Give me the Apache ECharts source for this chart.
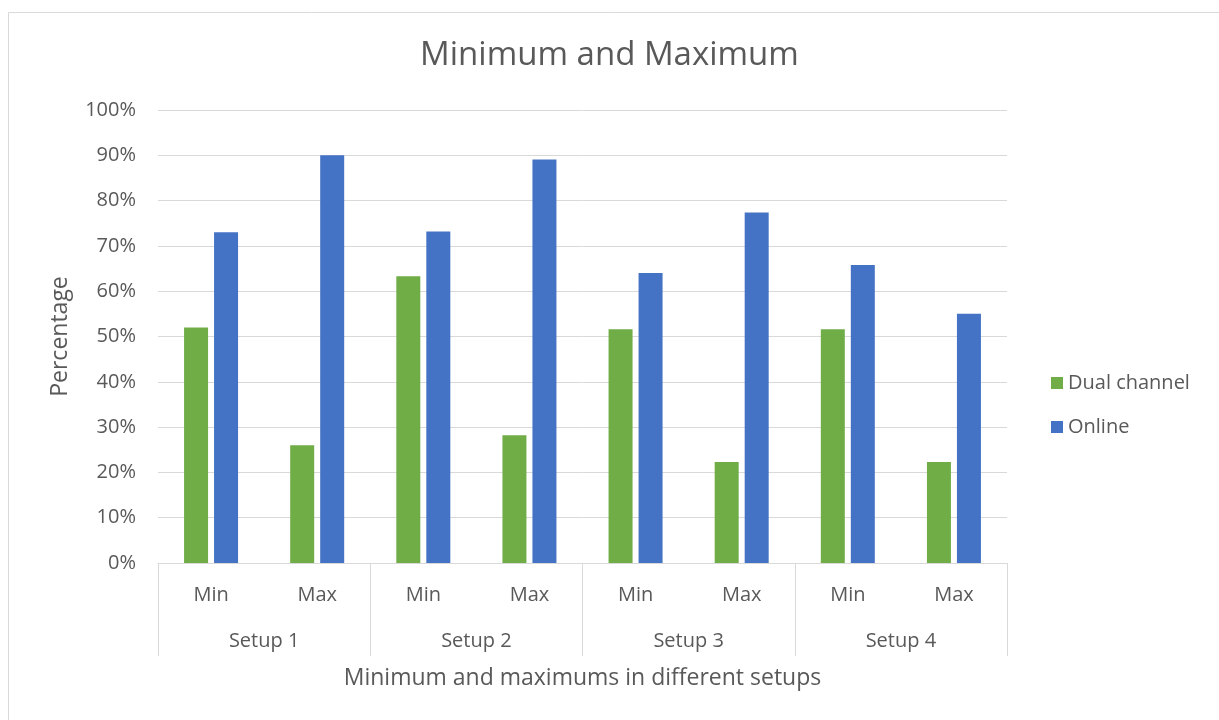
<!DOCTYPE html>
<html>
<head>
<meta charset="utf-8">
<script src="https://cdn.jsdelivr.net/npm/echarts@6/dist/echarts.min.js"></script>
<style>
  html, body { margin: 0; padding: 0; background: #fff; }
  #chart { width: 1219px; height: 720px; }
</style>
</head>
<body>
<div id="chart"></div>
<script>
var minMax = ['Min', 'Max', 'Min', 'Max', 'Min', 'Max', 'Min', 'Max']
var setups = ['Setup 1', 'Setup 2', 'Setup 3', 'Setup 4']
var dualChannel = [52, 26, 63.3, 28.2, 51.6, 22.3, 51.6, 22.3]
var online = [73, 90, 73.2, 89.1, 64, 77.4, 65.8, 55]
var yTicks = [0, 10, 20, 30, 40, 50, 60, 70, 80, 90, 100]

var textColor = '#595959'
var fontFamily = '"Open Sans", "Noto Sans", sans-serif'

var chart = echarts.init(document.getElementById('chart'))

var option = {
  animation: false,
  textStyle: { fontFamily: fontFamily, color: textColor },
  title: {
    text: 'Minimum and Maximum',
    left: 'center',
    top: 34,
    textStyle: {
      fontFamily: fontFamily,
      fontSize: 33,
      fontWeight: 'normal',
      color: textColor
    }
  },
  graphic: [{
    type: 'rect',
    shape: { x: 8.5, y: 12.5, width: 1240, height: 740 },
    style: { fill: 'none', stroke: '#d9d9d9', lineWidth: 1 },
    silent: true
  }],
  legend: {
    orient: 'vertical',
    left: 1046,
    top: 368,
    itemWidth: 12,
    itemHeight: 12,
    itemGap: 24,
    icon: 'rect',
    textStyle: { fontSize: 20, color: textColor, fontFamily: fontFamily },
    data: ['Dual channel', 'Online']
  },
  grid: {
    left: 158,
    right: 212,
    top: 110,
    bottom: 157
  },
  xAxis: [{
    type: 'category',
    data: minMax,
    position: 'bottom',
    axisLine: { lineStyle: { color: '#d9d9d9', width: 1 } },
    axisTick: { show: false },
    axisLabel: { margin: 22, fontSize: 20, color: textColor }
  }, {
    type: 'category',
    data: setups,
    position: 'bottom',
    axisLine: { show: false },
    axisTick: {
      show: true,
      length: 93,
      lineStyle: { color: '#d9d9d9', width: 1 }
    },
    axisLabel: { margin: 68, fontSize: 20, color: textColor },
    name: 'Minimum and maximums in different setups',
    nameLocation: 'middle',
    nameGap: 104,
    nameTextStyle: { fontSize: 23, color: textColor }
  }],
  yAxis: {
    type: 'value',
    min: yTicks[0],
    max: yTicks[yTicks.length - 1],
    interval: 10,
    axisLine: { show: false },
    axisTick: { show: false },
    splitLine: { lineStyle: { color: '#d9d9d9', width: 1 } },
    axisLabel: {
      margin: 22,
      fontSize: 20,
      color: textColor,
      formatter: '{value}%'
    },
    name: 'Percentage',
    nameLocation: 'middle',
    nameRotate: 90,
    nameGap: 86,
    nameTextStyle: { fontSize: 23, color: textColor }
  },
  series: [{
    name: 'Dual channel',
    type: 'bar',
    xAxisIndex: 0,
    data: dualChannel,
    barWidth: 24,
    barGap: '25%',
    itemStyle: { color: '#70ad47' }
  }, {
    name: 'Online',
    type: 'bar',
    xAxisIndex: 0,
    data: online,
    barWidth: 24,
    barGap: '25%',
    itemStyle: { color: '#4472c4' }
  }]
}

chart.setOption(option)
</script>
</body>
</html>
